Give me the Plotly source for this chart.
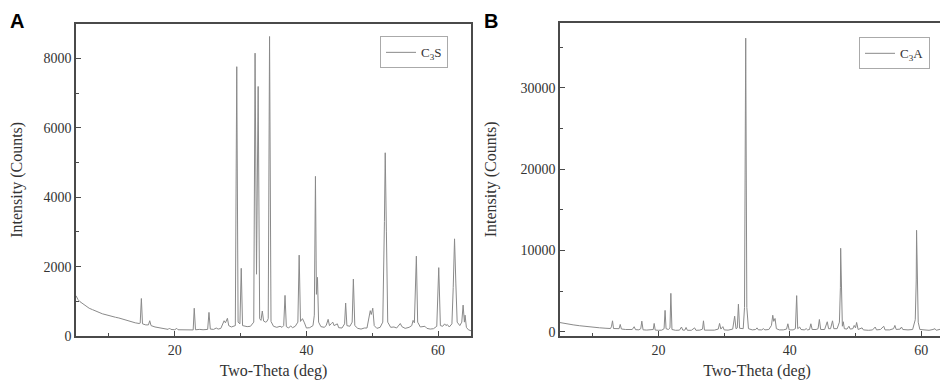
import plotly.graph_objects as go

# ---- Panel A: C3S diffraction pattern (two-theta deg, counts) ----
pattern_a = [
    (5.0, 1160), (5.3, 1050), (5.6, 990), (6.0, 930), (6.5, 860), (7.0, 800), (7.5, 760),
    (8.0, 710), (8.5, 680), (9.0, 640), (9.5, 610), (10.0, 590), (10.5, 560), (11.0, 540),
    (11.5, 520), (12.0, 490), (12.5, 460), (13.0, 430), (13.5, 400), (14.0, 380), (14.6, 360),
    (14.75, 370), (14.93, 1080), (15.1, 350), (15.6, 320), (16.0, 320), (16.2, 440), (16.4, 300),
    (17.0, 260), (17.5, 240), (18.0, 220), (18.5, 200), (19.0, 190), (19.2, 230), (19.4, 190),
    (20.0, 180), (20.3, 220), (20.5, 180), (21.0, 175), (22.0, 170), (22.8, 175), (22.96, 800),
    (23.15, 180), (23.8, 190), (24.3, 180), (25.0, 190), (25.2, 680), (25.4, 200), (25.9, 190),
    (26.3, 230), (26.6, 200), (27.0, 220), (27.5, 440), (27.7, 380), (28.0, 510), (28.2, 300),
    (28.6, 260), (29.2, 300), (29.42, 7760), (29.62, 400), (29.9, 350), (30.1, 1950), (30.3, 300),
    (31.0, 270), (31.5, 280), (32.0, 400), (32.2, 8150), (32.42, 1780), (32.67, 7190), (32.9, 500),
    (33.1, 450), (33.3, 720), (33.5, 430), (33.8, 400), (34.0, 420), (34.2, 500), (34.4, 8630),
    (34.62, 420), (35.0, 280), (35.5, 250), (36.0, 280), (36.3, 250), (36.55, 300), (36.75, 1170),
    (36.95, 270), (37.3, 230), (37.6, 290), (37.9, 240), (38.3, 280), (38.7, 400), (38.9, 2330),
    (39.1, 420), (39.4, 500), (39.7, 380), (40.0, 230), (40.5, 240), (41.0, 300), (41.2, 600),
    (41.37, 4600), (41.52, 1200), (41.68, 1690), (41.85, 400), (42.2, 270), (42.7, 250), (43.0, 300),
    (43.3, 480), (43.5, 300), (43.8, 360), (44.0, 400), (44.2, 300), (44.5, 330), (44.7, 350),
    (44.9, 240), (45.4, 230), (45.8, 350), (45.96, 950), (46.15, 300), (46.6, 280), (46.95, 400),
    (47.13, 1640), (47.35, 300), (47.8, 220), (48.3, 200), (48.8, 230), (49.2, 230), (49.5, 500),
    (49.7, 730), (49.85, 620), (50.08, 800), (50.3, 300), (50.7, 220), (51.2, 250), (51.6, 400),
    (51.85, 3300), (51.97, 5280), (52.15, 3000), (52.35, 400), (52.8, 250), (53.3, 260), (53.7, 230),
    (54.0, 300), (54.26, 360), (54.5, 270), (55.0, 220), (55.6, 250), (56.0, 300), (56.2, 450),
    (56.4, 380), (56.7, 2300), (56.9, 400), (57.3, 260), (57.8, 280), (58.0, 280), (58.3, 220),
    (58.8, 200), (59.3, 210), (59.8, 280), (60.1, 1970), (60.2, 1100), (60.35, 300), (60.7, 280),
    (61.0, 350), (61.2, 300), (61.4, 330), (61.7, 260), (62.1, 350), (62.3, 1400), (62.5, 2800),
    (62.7, 1500), (62.9, 400), (63.3, 300), (63.6, 400), (63.8, 890), (64.0, 400), (64.1, 600),
    (64.3, 250), (64.6, 180), (65.0, 150),
]

# ---- Panel B: C3A diffraction pattern ----
pattern_b = [
    (5.0, 1150), (5.5, 1060), (6.0, 990), (7.0, 870), (8.0, 760), (9.0, 660), (10.0, 580),
    (11.0, 510), (12.0, 450), (12.7, 420), (12.85, 700), (13.0, 1365), (13.15, 420), (13.6, 380),
    (14.0, 400), (14.17, 920), (14.35, 360), (15.0, 300), (15.5, 280), (16.0, 300), (16.3, 640),
    (16.5, 280), (17.0, 260), (17.3, 400), (17.46, 1325), (17.65, 260), (18.2, 230), (18.8, 220),
    (19.2, 300), (19.34, 1045), (19.5, 230), (20.0, 200), (20.5, 220), (20.85, 400), (21.0, 2650),
    (21.15, 400), (21.5, 300), (21.75, 500), (21.88, 4740), (22.05, 300), (22.6, 200), (23.2, 220),
    (23.5, 600), (23.7, 220), (24.0, 220), (24.2, 550), (24.4, 200), (25.0, 200), (25.5, 500),
    (25.7, 200), (26.3, 220), (26.7, 350), (26.85, 1365), (27.0, 220), (27.8, 200), (28.5, 220),
    (29.1, 350), (29.3, 1045), (29.5, 350), (29.8, 650), (30.0, 250), (30.6, 220), (31.3, 350),
    (31.6, 1930), (31.8, 400), (32.0, 500), (32.17, 3410), (32.35, 450), (32.9, 400), (33.1, 3000),
    (33.28, 36100), (33.45, 3000), (33.7, 400), (34.3, 250), (34.8, 300), (35.0, 500), (35.2, 260),
    (35.7, 250), (36.0, 400), (36.2, 250), (36.8, 300), (37.2, 800), (37.4, 2050), (37.55, 1300),
    (37.75, 1650), (37.95, 400), (38.4, 250), (39.0, 250), (39.5, 350), (39.7, 1000), (39.9, 250),
    (40.5, 250), (40.85, 400), (41.04, 4460), (41.2, 400), (41.5, 600), (41.7, 300), (42.2, 250),
    (42.5, 400), (42.7, 250), (43.0, 300), (43.2, 1000), (43.4, 300), (44.0, 300), (44.3, 400),
    (44.5, 1530), (44.7, 300), (45.3, 300), (45.7, 1250), (45.9, 400), (46.2, 400), (46.5, 1365),
    (46.7, 400), (47.2, 400), (47.55, 1200), (47.7, 5460), (47.74, 10280), (47.85, 5460), (48.0, 700),
    (48.14, 1250), (48.3, 400), (48.7, 350), (49.0, 700), (49.2, 350), (49.6, 400), (49.8, 800),
    (50.0, 500), (50.17, 1165), (50.4, 300), (51.0, 500), (51.2, 250), (52.0, 200), (52.6, 250),
    (53.0, 600), (53.2, 250), (53.8, 300), (54.3, 700), (54.5, 250), (55.2, 250), (55.8, 400),
    (56.0, 800), (56.2, 300), (56.8, 350), (57.0, 600), (57.2, 300), (58.0, 250), (58.7, 300),
    (59.1, 1500), (59.25, 6390), (59.3, 12490), (59.4, 6390), (59.55, 1200), (59.8, 300), (60.5, 250),
    (61.2, 200), (61.8, 300), (62.1, 400), (62.3, 200), (62.8, 250), (63.0, 350), (63.3, 200),
    (63.8, 300), (64.0, 550), (64.3, 250), (64.7, 200), (65.0, 150),
]

two_theta_a = [p[0] for p in pattern_a]
counts_a = [p[1] for p in pattern_a]
two_theta_b = [p[0] for p in pattern_b]
counts_b = [p[1] for p in pattern_b]

x_ticks = [20, 40, 60]
y_ticks_a = [0, 2000, 4000, 6000, 8000]
y_ticks_b = [0, 10000, 20000, 30000]

LINE = "#8a8a8a"
AXIS = "#4a4a4a"
FONT = "Liberation Serif"

fig = go.Figure()
fig.add_trace(go.Scatter(x=two_theta_a, y=counts_a, mode="lines", name="C<sub>3</sub>S",
                         line=dict(color=LINE, width=1), xaxis="x", yaxis="y",
                         legend="legend", showlegend=True))
fig.add_trace(go.Scatter(x=two_theta_b, y=counts_b, mode="lines", name="C<sub>3</sub>A",
                         line=dict(color=LINE, width=1), xaxis="x2", yaxis="y2",
                         legend="legend2", showlegend=True))

W, H = 948, 383
ytop, ybot = 1 - 16 / H, 1 - 335 / H

common_x = dict(showline=True, mirror=True, linecolor=AXIS, linewidth=1.5, ticks="inside",
                ticklen=5, tickwidth=1.2, tickcolor=AXIS, showgrid=False, zeroline=False,
                tickvals=x_ticks, ticktext=[str(v) for v in x_ticks], range=[5, 65],
                minor=dict(ticks="inside", ticklen=3, tickcolor=AXIS, tick0=0, dtick=10,
                           showgrid=False),
                tickfont=dict(family=FONT, size=14, color="#333"),
                title=dict(text="Two-Theta (deg)", font=dict(family=FONT, size=16, color="#333"),
                           standoff=8))
common_y = dict(showline=True, mirror=True, linecolor=AXIS, linewidth=1.5, ticks="inside",
                ticklen=5, tickwidth=1.2, tickcolor=AXIS, showgrid=False, zeroline=False,
                tickfont=dict(family=FONT, size=14, color="#333"),
                title=dict(text="Intensity (Counts)", font=dict(family=FONT, size=16, color="#333"),
                           standoff=20))

fig.update_layout(
    width=W, height=H, margin=dict(l=0, r=0, t=0, b=0),
    paper_bgcolor="white", plot_bgcolor="white", showlegend=True,
    xaxis=dict(common_x, domain=[68 / W, 463 / W], anchor="y"),
    yaxis=dict(common_y, domain=[ybot, ytop], anchor="x", range=[0, 9000], tickvals=y_ticks_a,
               ticktext=[str(v) for v in y_ticks_a],
               minor=dict(ticks="inside", ticklen=3, tickcolor=AXIS, tick0=0, dtick=1000,
                          showgrid=False)),
    xaxis2=dict(common_x, domain=[552 / W, 946 / W], anchor="y2"),
    yaxis2=dict(common_y, domain=[ybot, 1 - 15 / H], anchor="x2", range=[-500, 38000],
                tickvals=y_ticks_b, ticktext=[str(v) for v in y_ticks_b],
                minor=dict(ticks="inside", ticklen=3, tickcolor=AXIS, tick0=0, dtick=5000,
                           showgrid=False)),
    legend=dict(x=440 / W, y=1 - 29 / H, xanchor="right", yanchor="top",
                bordercolor="#aaaaaa", borderwidth=1, bgcolor="white",
                font=dict(family=FONT, size=13, color="#333"), itemwidth=30,
                tracegroupgap=0, visible=True),
    legend2=dict(x=922 / W, y=1 - 30 / H, xanchor="right", yanchor="top",
                 bordercolor="#aaaaaa", borderwidth=1, bgcolor="white",
                 font=dict(family=FONT, size=13, color="#333"), itemwidth=30,
                 tracegroupgap=0, visible=True),
    annotations=[
        dict(text="<b>A</b>", x=0, y=1, xref="paper", yref="paper", xanchor="left",
             yanchor="top", showarrow=False, font=dict(family="Liberation Sans", size=20, color="black")),
        dict(text="<b>B</b>", x=474 / W, y=1, xref="paper", yref="paper", xanchor="left",
             yanchor="top", showarrow=False, font=dict(family="Liberation Sans", size=20, color="black")),
    ],
)

fig.write_html("out.html")
